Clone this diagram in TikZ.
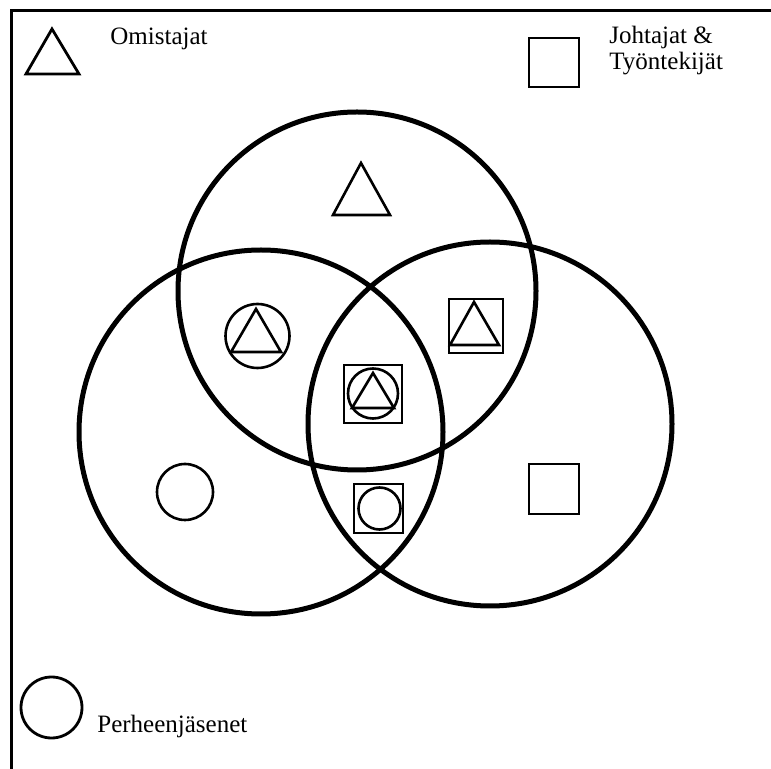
\documentclass[tikz,border=0pt]{standalone}
\usepackage{fontspec}
\setmainfont{Liberation Serif}
\begin{document}
\begin{tikzpicture}[
    x=0.5pt, y=-0.5pt,
    font=\fontsize{12.5}{13}\selectfont,
    setring/.style={line width=2.5pt},
    symb/.style={line width=1.3pt},
    legendsymb/.style={line width=1.4pt},
    lbl/.style={anchor=base west, inner sep=0pt}
]
\useasboundingbox (0,0) rectangle (771,769);

% Frame
\draw[line width=1.5pt] (11,769) -- (11,11) -- (771,11);

% Legend
\draw[legendsymb] (52,29) -- (79,74) -- (26,74) -- cycle;
\node[lbl] (owners) at (110,45) {Omistajat};

\draw[legendsymb] (529,38) rectangle (579,87);
\node[lbl] (managers) at (609,44) {Johtajat \&};
\node[lbl] (workers) at (609,70) {Työntekijät};

\draw[legendsymb] (51.5,707.5) circle (30.5);
\node[lbl] (family) at (97,732) {Perheenjäsenet};

% Sets
\draw[setring] (357,291) circle (179);
\draw[setring] (261,432) circle (182);
\draw[setring] (490,424) circle (182);

% Owners only
\draw[symb] (361,163) -- (390,215) -- (333,215) -- cycle;

% Owners & family
\draw[symb] (257.5,336) circle (32);
\draw[symb] (256,309) -- (281,352) -- (231,352) -- cycle;

% Owners & managers
\draw[symb] (449,299) rectangle (503,353);
\draw[symb] (474,302) -- (499,345) -- (450,345) -- cycle;

% All three
\draw[symb] (344,365) rectangle (402,423);
\draw[symb] (373,393.5) circle (25);
\draw[symb] (373,373) -- (394,408) -- (352,408) -- cycle;

% Family & managers
\draw[symb] (354,484) rectangle (403,533);
\draw[symb] (379.5,508.5) circle (21);

% Family only
\draw[symb] (185,492) circle (28);

% Managers only
\draw[symb] (529,464) rectangle (579,514);

\end{tikzpicture}
\end{document}
